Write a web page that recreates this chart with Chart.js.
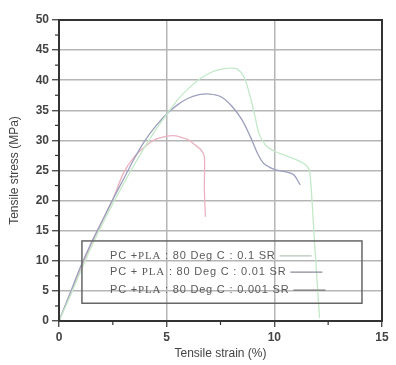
<!DOCTYPE html>
<html>
<head>
<meta charset="utf-8">
<script src="https://cdn.jsdelivr.net/npm/chart.js@4"></script>
<style>
  html, body { margin: 0; padding: 0; background: #fff; }
  #wrap { width: 396px; height: 365px; position: relative; }
</style>
</head>
<body>
<div id="wrap"><canvas id="c" width="396" height="365"></canvas></div>
<script>
// ---- data ----
const seriesLabels = [
  'PC +PLA : 80 Deg C : 0.1 SR',
  'PC + PLA : 80 Deg C : 0.01 SR',
  'PC +PLA : 80 Deg C : 0.001 SR'
];
const strain01 = [0, 0.5, 1, 1.5, 2, 2.5, 3, 3.5, 4, 4.5, 5, 5.5, 6, 6.5, 7, 7.5, 8, 8.3, 8.6, 8.9, 9.1, 9.3, 9.6, 10, 10.5, 11, 11.5, 11.65, 11.85, 12.1];
const stress01 = [0, 4, 8.2, 12.3, 16, 19.5, 22.8, 26, 29, 31.8, 34.3, 36.7, 38.6, 40.1, 41.2, 41.8, 42, 41.8, 40.5, 37, 34, 31, 29.2, 28.2, 27.5, 26.8, 25.8, 24.6, 14, 0.5];

const strain001 = [0, 0.5, 1, 1.5, 2, 2.5, 3, 3.5, 4, 4.5, 5, 5.5, 6, 6.5, 7, 7.5, 8, 8.5, 8.9, 9.2, 9.5, 10, 10.5, 10.9, 11.2];
const stress001 = [0, 4.5, 9, 13, 16.6, 20.2, 23.6, 27, 30, 32.4, 34.4, 35.9, 37, 37.6, 37.7, 37.3, 35.8, 33.4, 30.5, 28, 26.2, 25.2, 24.8, 24.3, 22.6];

const strain0001 = [0, 0.5, 1, 1.5, 2, 2.5, 3, 3.5, 4, 4.5, 5, 5.3, 5.6, 6, 6.3, 6.6, 6.75, 6.75, 6.8];
const stress0001 = [0, 4.3, 8.6, 12.8, 16.5, 20.2, 24.6, 27.3, 29, 30.2, 30.7, 30.8, 30.6, 30.1, 29.3, 28.4, 27.3, 22, 17.3];

const xTicks = [0, 5, 10, 15];
const yTicks = [0, 5, 10, 15, 20, 25, 30, 35, 40, 45, 50];
const xMinor = [2.5, 7.5, 12.5];
const yMinor = [2.5, 7.5, 12.5, 17.5, 22.5, 27.5, 32.5, 37.5, 42.5, 47.5];

const colors = ['#c3e9c9', '#9c9fbd', '#ebb3c1'];

function pts(xs, ys) { return xs.map((x, i) => ({ x: x, y: ys[i] })); }

const datasets = [
  { label: seriesLabels[0], data: pts(strain01, stress01) },
  { label: seriesLabels[1], data: pts(strain001, stress001) },
  { label: seriesLabels[2], data: pts(strain0001, stress0001) }
].map((d, i) => Object.assign(d, {
  borderColor: colors[i], backgroundColor: colors[i], showLine: true,
  pointRadius: 0, borderWidth: 1.3, tension: 0.3, fill: false
}));

const FONT = "'Liberation Sans', Arial, sans-serif";

const framePlugin = {
  id: 'frame',
  afterDraw(chart) {
    const { ctx, chartArea: a, scales } = chart;
    ctx.save();
    // minor ticks
    ctx.strokeStyle = '#333';
    ctx.lineWidth = 1.2;
    yMinor.forEach(v => {
      const y = scales.y.getPixelForValue(v);
      ctx.beginPath(); ctx.moveTo(a.left - 4, y); ctx.lineTo(a.left, y); ctx.stroke();
    });
    xMinor.forEach(v => {
      const x = scales.x.getPixelForValue(v);
      ctx.beginPath(); ctx.moveTo(x, a.bottom); ctx.lineTo(x, a.bottom + 4); ctx.stroke();
    });
    // frame
    ctx.strokeStyle = '#333';
    ctx.lineWidth = 2;
    ctx.strokeRect(a.left, a.top, a.right - a.left, a.bottom - a.top);

    // legend box
    const w = a.right - a.left, h = a.bottom - a.top;
    const bx = a.left + w * 0.071, by = a.top + h * 0.734;
    const bw = w * 0.867, bh = h * 0.207;
    ctx.strokeStyle = '#666';
    ctx.lineWidth = 1.5;
    ctx.strokeRect(bx, by, bw, bh);
    const tx = a.left + w * 0.158;
    const rows = [by + bh * 0.24, by + bh * 0.50, by + bh * 0.79];
    ctx.textBaseline = 'middle';
    ctx.fillStyle = '#5a5a5a';
    ctx.letterSpacing = '0.8px';
    chart.data.datasets.forEach((ds, i) => {
      const parts = ds.label.split('PLA');
      let x = tx;
      const y = rows[i];
      ctx.font = '11px ' + FONT;
      ctx.fillText(parts[0], x, y); x += ctx.measureText(parts[0]).width;
      ctx.font = "11px 'Liberation Serif', 'Times New Roman', serif";
      ctx.fillText('PLA', x, y); x += ctx.measureText('PLA').width;
      ctx.font = '11px ' + FONT;
      ctx.fillText(parts[1], x, y); x += ctx.measureText(parts[1]).width;
      ctx.strokeStyle = ['#b8c4b8', '#8a8a9a', '#777'][i];
      ctx.lineWidth = 1.2;
      ctx.beginPath(); ctx.moveTo(x + 4, y); ctx.lineTo(x + 36, y); ctx.stroke();
    });
    ctx.letterSpacing = '0px';
    ctx.restore();
  }
};

new Chart(document.getElementById('c'), {
  type: 'scatter',
  data: { datasets: datasets },
  options: {
    responsive: false,
    animation: false,
    devicePixelRatio: 1,
    layout: { padding: { left: 0, top: 20, right: 14, bottom: 0 } },
    plugins: { legend: { display: false }, tooltip: { enabled: false } },
    scales: {
      x: {
        type: 'linear', min: 0, max: 15,
        afterBuildTicks: s => { s.ticks = xTicks.map(v => ({ value: v })); },
        afterFit: s => { s.height = 44; },
        grid: { color: '#b5b5b5', lineWidth: 1.5, tickColor: '#333', tickLength: 6, tickWidth: 1.2 },
        border: { display: true, color: '#333', width: 2 },
        ticks: { color: '#444', padding: 3, font: { family: FONT, size: 12, weight: 'bold' } },
        title: { display: true, text: 'Tensile strain (%)', color: '#444', padding: { top: 2, bottom: 4 },
                 font: { family: FONT, size: 12 } }
      },
      y: {
        type: 'linear', min: 0, max: 50,
        afterBuildTicks: s => { s.ticks = yTicks.map(v => ({ value: v })); },
        afterFit: s => { s.width = 59; },
        grid: { color: '#b5b5b5', lineWidth: 1.5, tickColor: '#333', tickLength: 7, tickWidth: 1.2 },
        border: { display: true, color: '#333', width: 2 },
        ticks: { color: '#444', padding: 3, font: { family: FONT, size: 12, weight: 'bold' } },
        title: { display: true, text: 'Tensile stress (MPa)', color: '#444', padding: { top: 7, bottom: 2 },
                 font: { family: FONT, size: 12 } }
      }
    }
  },
  plugins: [framePlugin]
});
</script>
</body>
</html>
